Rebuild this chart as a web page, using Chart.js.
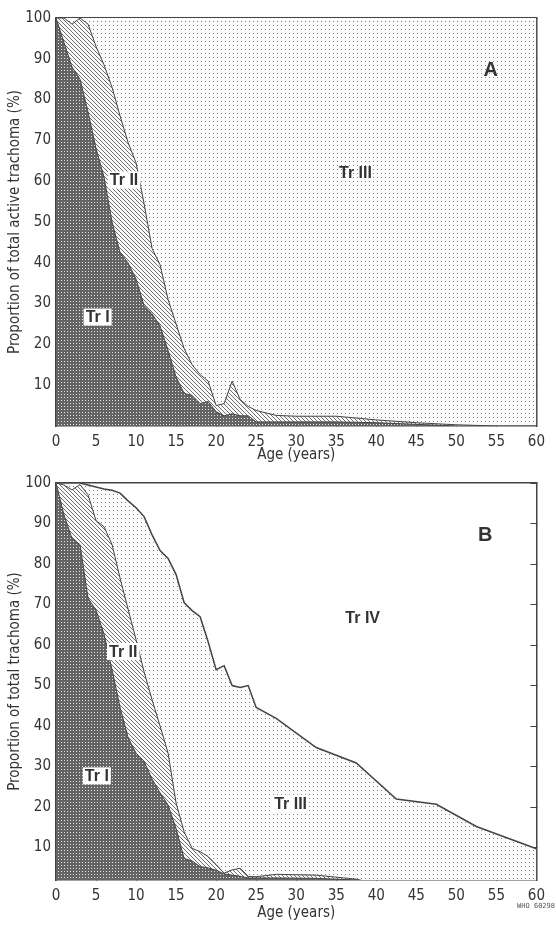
<!DOCTYPE html>
<html>
<head>
<meta charset="utf-8">
<script src="https://cdn.jsdelivr.net/npm/chart.js@4.4.1/dist/chart.umd.min.js"></script>
<style>
  html, body { margin: 0; padding: 0; background: #fff; }
  #wrap { position: relative; width: 556px; height: 929px; overflow: hidden; }
  #chartA { position: absolute; left: 0; top: 0; }
  #chartB { position: absolute; left: 0; top: 465px; }
  #who { position: absolute; right: 1px; top: 902px; font: 7px 'DejaVu Sans Mono', monospace; color: #555; }
</style>
</head>
<body>
<div id="wrap">
  <canvas id="chartA" width="556" height="465"></canvas>
  <canvas id="chartB" width="556" height="464"></canvas>
  <div id="who">WHO 60298</div>
</div>
<script>
// Panel A: active trachoma, cumulative share (%) by age
var agesA    = [0,1,2,3,4,5,6,7,8,9,10,11,12,13,14,15,16,17,18,19,20,21,22,23,24,25,27.5,30,35,40,45,50,55,60];
var trI_A    = [100,94,88,85,77,68,61,50,42.5,40,36,29.5,27.5,24.5,18.5,12,8,7.5,5.5,6,3.5,2.5,3,2.5,2.5,1,1,1,1,0.8,0.4,0,0,0];
var trI_II_A = [100,100,98.5,100,98.5,93,88.5,83,76,69.5,64.5,54.5,43.5,39.5,31,25,19,15,12.6,11,5,5.5,11,6.5,4.8,3.8,2.6,2.4,2.4,1.5,0.8,0.3,0,0];

// Panel B: all trachoma, cumulative share (%) by age
var agesB      = [0,1,2,3,4,5,6,7,8,9,10,11,12,13,14,15,16,17,18,19,20,21,22,23,24,25,27.5,32.5,37.5,42.5,47.5,52.5,60];
var trI_B      = [100,92.1,86.3,84.8,71.6,68.6,62.7,53.9,44.6,37.2,33.3,31.3,26.9,23.5,20.5,14.7,7.3,6.7,5.3,5,4.4,3.5,3.2,2.9,2.5,2.5,2.5,2.4,2,0,0,0,0];
var trI_II_B   = [100,99.5,98.3,99.6,97.1,90.7,89.2,84.8,76.5,68.9,61.3,53.4,46.5,40,33.3,21,13.9,9.8,9,7.8,5.8,3.7,4.5,4.9,2.9,2.8,3.4,3.2,2.2,0,0,0,0];
var trI_III_B  = [100,100,100,100,99.5,99,98.5,98.2,97.5,95.6,93.9,91.7,87.2,83.3,81.4,77.4,70.5,68.5,67,60.8,53.9,54.9,50,49.5,50,44.6,41.9,34.7,30.9,22,20.7,15.2,9.7];

var yTicks = [10,20,30,40,50,60,70,80,90,100];
var xTicks = [0,5,10,15,20,25,30,35,40,45,50,55,60];

var narrow = "'Liberation Sans Narrow', 'DejaVu Sans Condensed', sans-serif";
var inkColor = '#333';
var lineColor = '#444';

// fill patterns like the printed screens
function makePattern(size, paint) {
    var tile = document.createElement('canvas');
    tile.width = size; tile.height = size;
    var g = tile.getContext('2d');
    paint(g);
    return document.getElementById('chartA').getContext('2d').createPattern(tile, 'repeat');
}
var darkPat = makePattern(3, function(g) {
    g.fillStyle = '#646464'; g.fillRect(0, 0, 3, 3);
    g.fillStyle = '#e4e4e4'; g.fillRect(1, 1, 1, 1);
});
var hatchPat = makePattern(4, function(g) {
    g.fillStyle = '#fbfbfb'; g.fillRect(0, 0, 4, 4);
    g.fillStyle = '#6e6e6e';
    for (var i = 0; i < 4; i++) g.fillRect(i, i, 1, 1);
});
var dotPat = makePattern(4, function(g) {
    g.fillStyle = '#fcfcfc'; g.fillRect(0, 0, 4, 4);
    g.fillStyle = '#828282'; g.fillRect(1, 1, 1, 1);
});

// text labels placed in data coordinates
var areaLabels = {
    id: 'areaLabels',
    afterDatasetsDraw: function(chart, args, opts) {
        var ctx = chart.ctx, xs = chart.scales.x, ys = chart.scales.y;
        (opts.items || []).forEach(function(it) {
            var px = xs.getPixelForValue(it.age), py = ys.getPixelForValue(it.pct);
            ctx.save();
            ctx.font = it.font;
            ctx.textAlign = 'center';
            ctx.textBaseline = 'middle';
            if (it.box) {
                var w = ctx.measureText(it.text).width;
                ctx.fillStyle = '#fff';
                ctx.fillRect(px - w / 2 - 2, py - 8.5, w + 4, 17);
            }
            ctx.fillStyle = inkColor;
            ctx.fillText(it.text, px, py + 1);
            ctx.restore();
        });
    }
};

var labelFont = "bold 16px 'Liberation Sans', Arial, sans-serif";
var letterFont = "bold 20px 'Liberation Sans', Arial, sans-serif";

function buildScales(yMin, yTitle, xHeight, xTitlePad) {
    var tickFont = {family: narrow, size: 15};
    var border = {color: lineColor, width: 1.5};
    return {
        x: {
            type: 'linear', min: 0, max: 60, z: 1,
            afterBuildTicks: function(s) { s.ticks = xTicks.map(function(v) { return {value: v}; }); },
            ticks: {font: tickFont, color: inkColor, padding: 11, maxRotation: 0, autoSkip: false},
            grid: {drawOnChartArea: false, tickLength: -4, color: lineColor},
            border: border,
            title: {display: true, text: 'Age (years)', font: {family: narrow, size: 15}, color: inkColor,
                    padding: {top: 0, bottom: xTitlePad}},
            afterFit: function(s) { s.height = xHeight; }
        },
        xTop: {
            type: 'linear', position: 'top', min: 0, max: 60, z: 1,
            ticks: {display: false},
            grid: {display: false},
            border: border,
            afterFit: function(s) { s.height = 0; }
        },
        y: {
            type: 'linear', min: yMin, max: 100, z: 1,
            afterBuildTicks: function(s) { s.ticks = yTicks.map(function(v) { return {value: v}; }); },
            ticks: {font: tickFont, color: inkColor, padding: 9},
            grid: {drawOnChartArea: false, tickLength: -4, color: lineColor},
            border: border,
            title: {display: true, text: yTitle, font: {family: narrow, size: 15}, color: inkColor,
                    padding: {top: 6, bottom: 0}},
            afterFit: function(s) { s.width = 56; }
        },
        y2: {
            type: 'linear', position: 'right', min: yMin, max: 100, z: 1,
            afterBuildTicks: function(s) { s.ticks = yTicks.map(function(v) { return {value: v}; }); },
            ticks: {display: false},
            grid: {drawOnChartArea: false, tickLength: -6, color: lineColor},
            border: border,
            afterFit: function(s) { s.width = 0; }
        }
    };
}

function area(label, data, fill, bg, bw) {
    return {
        label: label, data: data, fill: fill, backgroundColor: bg,
        borderColor: lineColor, borderWidth: bw, pointRadius: 0, tension: 0
    };
}

// Panel A
new Chart(document.getElementById('chartA'), {
    type: 'line',
    data: {
        labels: agesA,
        datasets: [
            area('Tr I', trI_A, 'origin', darkPat, 1),
            area('Tr II', trI_II_A, '-1', hatchPat, 1),
            area('Tr III', trI_II_A, 'end', dotPat, 0)
        ]
    },
    options: {
        responsive: false,
        animation: false,
        layout: {padding: {top: 18, right: 7, left: 0, bottom: 0}},
        scales: buildScales(0, 'Proportion of total active trachoma (%)', 39, 1),
        plugins: {
            legend: {display: false},
            tooltip: {enabled: false},
            areaLabels: {items: [
                {text: 'Tr I', age: 5.2, pct: 26.7, box: true, font: labelFont},
                {text: 'Tr II', age: 8.5, pct: 60.3, box: true, font: labelFont},
                {text: 'Tr III', age: 37.4, pct: 62, box: false, font: labelFont},
                {text: 'A', age: 54.3, pct: 87.3, box: false, font: letterFont}
            ]}
        }
    },
    plugins: [areaLabels]
});

// Panel B
new Chart(document.getElementById('chartB'), {
    type: 'line',
    data: {
        labels: agesB,
        datasets: [
            area('Tr I', trI_B, 'origin', darkPat, 1),
            area('Tr II', trI_II_B, '-1', hatchPat, 1),
            area('Tr III', trI_III_B, '-1', dotPat, 1.5)
        ]
    },
    options: {
        responsive: false,
        animation: false,
        layout: {padding: {top: 16, right: 7, left: 0, bottom: 0}},
        scales: buildScales(2, 'Proportion of total trachoma (%)', 49, 7),
        plugins: {
            legend: {display: false},
            tooltip: {enabled: false},
            areaLabels: {items: [
                {text: 'Tr I', age: 5.1, pct: 27.7, box: true, font: labelFont},
                {text: 'Tr II', age: 8.4, pct: 58.4, box: true, font: labelFont},
                {text: 'Tr III', age: 29.3, pct: 20.9, box: true, font: labelFont},
                {text: 'Tr IV', age: 38.3, pct: 66.7, box: false, font: labelFont},
                {text: 'B', age: 53.6, pct: 87.3, box: false, font: letterFont}
            ]}
        }
    },
    plugins: [areaLabels]
});
</script>
</body>
</html>
